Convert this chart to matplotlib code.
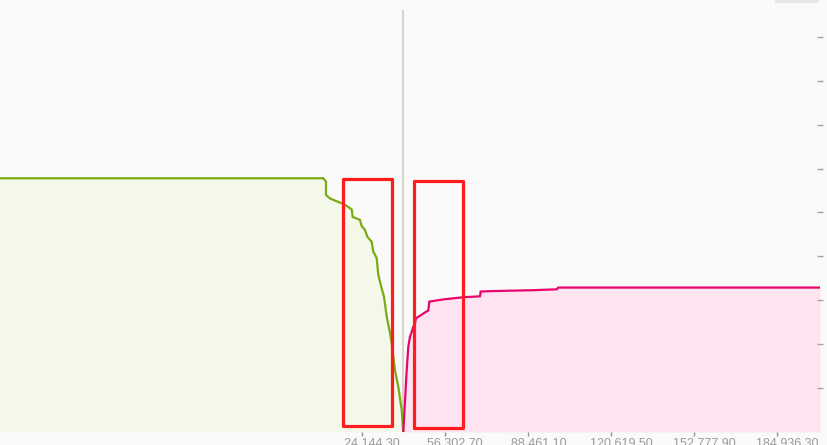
import matplotlib
matplotlib.use("Agg")
import matplotlib.pyplot as plt
import matplotlib.transforms as mtransforms
from matplotlib.patches import Rectangle
from matplotlib.ticker import FuncFormatter

# Bid side (cumulative depth), price ascending
bid_price = [-116210, 9035, 10081, 10081, 11631, 13568, 16164, 18101, 20038, 20425,
             23253, 23912, 25190, 26081, 27786, 28405, 29723, 30342, 31660, 32551,
             33597, 34875, 35534, 36812, 38090, 39408, 40027]
bid_depth = [5.78, 5.78, 5.70, 5.40, 5.32, 5.27, 5.21, 5.15, 5.07, 4.90,
             4.83, 4.69, 4.60, 4.45, 4.33, 4.11, 3.96, 3.58, 3.27, 3.08,
             2.63, 2.25, 2.02, 1.41, 1.03, 0.50, 0.0]

# Ask side (cumulative depth), price ascending
ask_price = [40027, 41345, 41964, 42623, 43282, 43901, 44560, 44947, 49712, 50100,
             55523, 63271, 69741, 70012, 74893, 90389, 99455, 100074, 116229, 201457]
ask_depth = [0.0, 1.41, 1.94, 2.17, 2.28, 2.40, 2.48, 2.59, 2.77, 2.97,
             3.02, 3.07, 3.09, 3.20, 3.21, 3.23, 3.25, 3.29, 3.29, 3.29]

mid_price = 40027
x_ticks = [24144.30, 56302.70, 88461.10, 120619.50, 152777.90, 184936.30]
y_ticks = [1, 2, 3, 4, 5, 6, 7, 8, 9]

# Highlight boxes (price_lo, price_hi, depth_lo, depth_hi)
box1 = (16667, 35650, 0.137, 5.76)
box2 = (44173, 63155, 0.09, 5.72)

W, H = 828, 445
fig = plt.figure(figsize=(W / 100, H / 100), dpi=100)
fig.patch.set_facecolor("#fafafa")
ax = fig.add_axes([0, 13 / H, 820 / W, 432 / H])
ax.set_facecolor("#fafafa")

green = "#7aab12"
pink = "#e8066e"
ax.fill_between(bid_price, bid_depth, 0, color="#f4f8e9", zorder=1, linewidth=0)
ax.fill_between(ask_price, ask_depth, 0, color="#fde4f0", zorder=1, linewidth=0)
ax.plot(bid_price, bid_depth, color=green, lw=1.6, zorder=3, solid_joinstyle="miter")
ax.plot(ask_price, ask_depth, color=pink, lw=1.6, zorder=3, solid_joinstyle="miter")

ax.axvline(mid_price, ymin=0, ymax=(9.59) / 9.84, color="#d6d6cc", lw=1.6, zorder=2)

for (x0, x1, y0, y1) in (box1, box2):
    ax.add_patch(Rectangle((x0, y0), x1 - x0, y1 - y0, fill=False,
                           edgecolor="#ff1c1c", lw=2.3, zorder=5, joinstyle="round"))

ax.set_xlim(-116210, 201457)
ax.set_ylim(0, 9.84)

for s in ax.spines.values():
    s.set_visible(False)

ax.set_xticks(x_ticks)
ax.xaxis.set_major_formatter(FuncFormatter(
    lambda v, p: f"{v:,.2f}".replace(",", " ").replace(".", ",")))
ax.tick_params(axis="x", direction="out", length=3, width=1, color="#8a96a6",
               labelcolor="#9a9a9a", labelsize=9, pad=1)
offset = mtransforms.ScaledTranslation(10 / 100, 0, fig.dpi_scale_trans)
for lab in ax.get_xticklabels():
    lab.set_fontfamily("Liberation Sans")
    lab.set_transform(lab.get_transform() + offset)

ax.yaxis.tick_right()
ax.set_yticks(y_ticks)
ax.tick_params(axis="y", direction="inout", length=5, width=1, color="#a0a4a8",
               labelcolor="#c0c0c0", labelsize=8.5, pad=4)

# small grey button at top right (cropped)
fig.patches.append(Rectangle((775 / W, 1 - 3 / H), 44 / W, 3 / H,
                             transform=fig.transFigure, facecolor="#e6e8e8",
                             edgecolor="none"))

fig.savefig("out.png", dpi=100, facecolor=fig.get_facecolor())
